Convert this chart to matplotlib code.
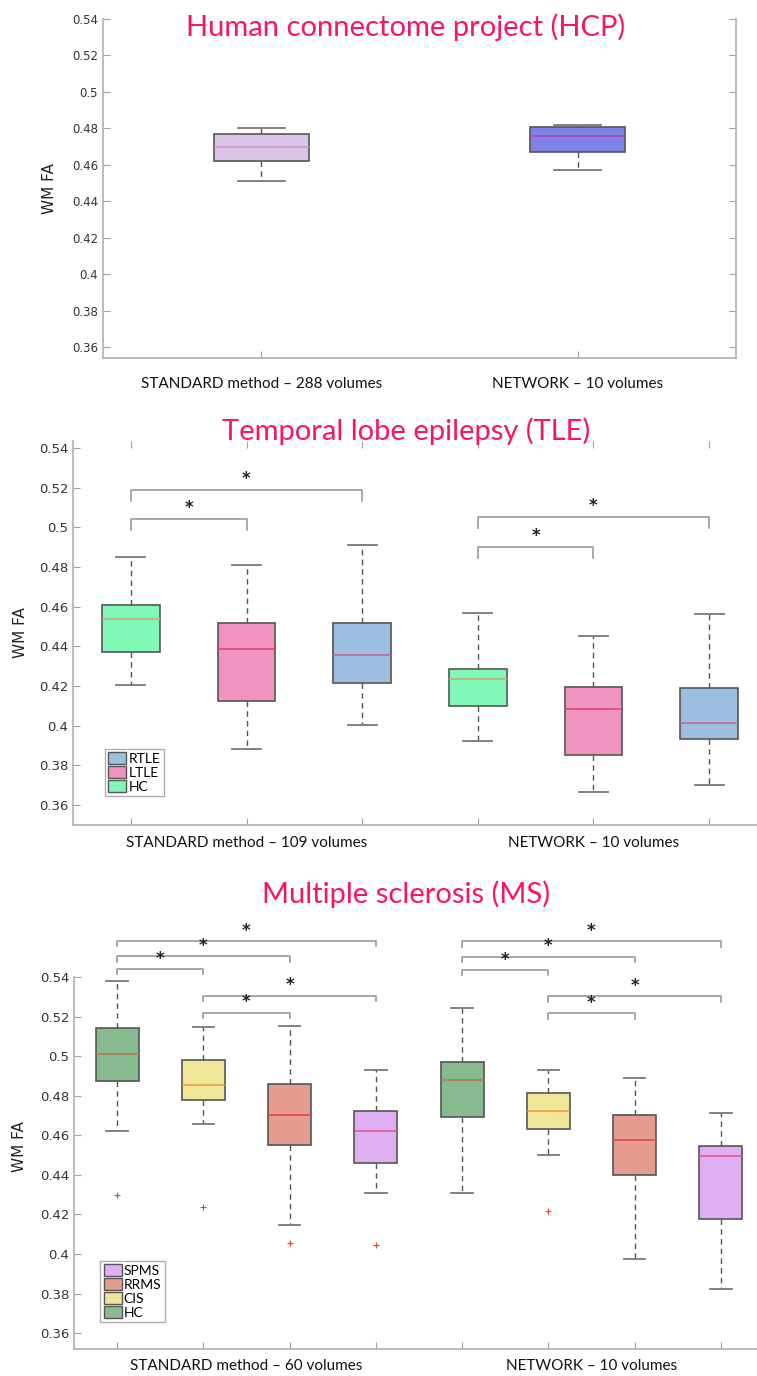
import matplotlib.pyplot as plt
from matplotlib.patches import Patch

# ---- data ----
yticks = [0.36, 0.38, 0.40, 0.42, 0.44, 0.46, 0.48, 0.50, 0.52, 0.54]

# Human connectome project
hcp_groups = ['STANDARD method – 288 volumes', 'NETWORK – 10 volumes']
hcp_whislo = [0.451, 0.457]
hcp_q1 = [0.462, 0.467]
hcp_med = [0.4697, 0.4758]
hcp_q3 = [0.4769, 0.481]
hcp_whishi = [0.4802, 0.4818]
hcp_colors = ['#d9c4ea', '#8181ea']
hcp_medcolors = ['#dc90c8', '#b040b0']

# Temporal lobe epilepsy: HC, LTLE, RTLE (standard), then same for network
tle_groups = ['STANDARD method – 109 volumes', 'NETWORK – 10 volumes']
tle_names = ['HC', 'LTLE', 'RTLE']
tle_whislo = [0.4207, 0.3883, 0.4004, 0.3923, 0.3667, 0.3704]
tle_q1 = [0.4370, 0.4123, 0.4214, 0.4098, 0.3855, 0.3932]
tle_med = [0.4539, 0.4385, 0.4356, 0.4234, 0.4085, 0.4016]
tle_q3 = [0.4611, 0.4516, 0.4516, 0.4288, 0.4195, 0.4192]
tle_whishi = [0.4848, 0.4808, 0.4913, 0.4568, 0.4452, 0.4561]
tle_colors = ['#80f8b8', '#f093be', '#9cbee0']
tle_medcolors = ['#c8a878', '#e83c6c', '#c86488']
tle_sig = [(1, 3, 0.5189), (1, 2, 0.5041), (4, 6, 0.5051), (4, 5, 0.4900)]

# Multiple sclerosis: HC, CIS, RRMS, SPMS (standard), then network
ms_groups = ['STANDARD method – 60 volumes', 'NETWORK – 10 volumes']
ms_names = ['HC', 'CIS', 'RRMS', 'SPMS']
ms_whislo = [0.4620, 0.4657, 0.4148, 0.4308, 0.4310, 0.4499, 0.3976, 0.3825]
ms_q1 = [0.4874, 0.4777, 0.4552, 0.4462, 0.4691, 0.4632, 0.4397, 0.4177]
ms_med = [0.5011, 0.4856, 0.4704, 0.4623, 0.4878, 0.4723, 0.4574, 0.4494]
ms_q3 = [0.5144, 0.4982, 0.4859, 0.4724, 0.4972, 0.4814, 0.4704, 0.4544]
ms_whishi = [0.5378, 0.5149, 0.5152, 0.4932, 0.5245, 0.4930, 0.4891, 0.4714]
ms_fliers = [[0.4300], [0.4237], [0.4057], [0.4047], [], [0.4219], [], []]
ms_colors = ['#88ba90', '#f0e69a', '#e49c8e', '#e0aef2']
ms_medcolors = ['#c07050', '#f09040', '#e84040', '#e85080']
ms_sig = [(1, 4, 0.5582), (1, 3, 0.5504), (1, 2, 0.5440), (2, 4, 0.5306), (2, 3, 0.5220),
          (5, 8, 0.5580), (5, 7, 0.5503), (5, 6, 0.5435), (6, 8, 0.5302), (6, 7, 0.5216)]

W, H = 757, 1376
TITLE_RED = '#fa1560'
NARROW = ['Lato', 'DejaVu Sans']

fig = plt.figure(figsize=(W / 100, H / 100), dpi=100)


def add_axes_px(left, top, right, bottom):
    return fig.add_axes([left / W, 1 - bottom / H, (right - left) / W, (bottom - top) / H])


def draw_boxes(ax, positions, width, whislo, q1, med, q3, whishi, fliers, colors, medcolors):
    stats = []
    for i in range(len(positions)):
        stats.append({'whislo': whislo[i], 'q1': q1[i], 'med': med[i], 'q3': q3[i],
                      'whishi': whishi[i], 'fliers': fliers[i]})
    bp = ax.bxp(stats, positions=positions, widths=width, patch_artist=True,
                boxprops=dict(edgecolor='#555555', linewidth=1.2),
                whiskerprops=dict(color='#555555', linestyle=(0, (4, 3)), linewidth=1),
                capprops=dict(color='#777777', linewidth=1.3),
                medianprops=dict(linewidth=1.1),
                flierprops=dict(marker='+', markeredgecolor='#ff3030', markersize=4, markeredgewidth=0.8))
    for i, box in enumerate(bp['boxes']):
        box.set_facecolor(colors[i % len(colors)])
        bp['medians'][i].set_color(medcolors[i % len(medcolors)])
    return bp


def style(ax, ylim, xlim, positions, centers, groups, tick_fs, label_pad, ylabel_x, ylabel_y=0.5):
    ax.set_ylim(*ylim)
    ax.set_xlim(*xlim)
    ax.set_yticks(yticks)
    ax.set_yticklabels(['%g' % round(v, 2) for v in yticks])
    ax.xaxis.remove_overlapping_locs = False
    ax.set_xticks(positions)
    ax.set_xticklabels([''] * len(positions))
    ax.set_xticks(centers, groups, minor=True)
    for s in ax.spines.values():
        s.set_color('#b0b0b0')
        s.set_linewidth(1.2)
    ax.spines['top'].set_visible(False)
    ax.tick_params(axis='both', which='major', direction='in', color='#a0a0a0', length=5,
                   labelcolor='#333333', labelsize=tick_fs, right=True)
    ax.tick_params(axis='x', which='minor', length=0, pad=label_pad, labelsize=11, labelcolor='#111111')
    for t in ax.get_xticklabels(minor=True):
        t.set_family(NARROW)
    ax.set_ylabel('WM FA', fontsize=11, color='#222222')
    ax.yaxis.set_label_coords(ylabel_x, ylabel_y)


def brackets(ax, sig, drop, star_off):
    for a, b, y in sig:
        ax.plot([a, a, b, b], [y - drop, y, y, y - drop], color='#9a9a9a', lw=1.2, clip_on=False)
        ax.text((a + b) / 2, y + star_off, '*', ha='center', va='bottom', fontsize=12,
                fontweight='bold', color='#222222', clip_on=False)


def legend(ax, names, colors, anchor):
    handles = [Patch(facecolor=colors[i], edgecolor='#555555', label=names[i])
               for i in range(len(names) - 1, -1, -1)]
    leg = ax.legend(handles=handles, loc='lower left', bbox_to_anchor=anchor, borderaxespad=0,
                    handlelength=1.3, handleheight=0.9, handletextpad=0.15, borderpad=0.25,
                    labelspacing=0.1, fancybox=False, prop={'family': NARROW, 'size': 10})
    leg.get_frame().set_edgecolor('#999999')
    leg.get_frame().set_linewidth(1)


# ---- panel 1: HCP ----
ax1 = add_axes_px(103, 19, 736, 358)
pos1 = [1, 2]
draw_boxes(ax1, pos1, 0.3, hcp_whislo, hcp_q1, hcp_med, hcp_q3, hcp_whishi, [[], []],
           hcp_colors, hcp_medcolors)
style(ax1, (0.354, 0.54), (0.5, 2.5), pos1, pos1, hcp_groups, 8.5, 14, -0.073)

# ---- panel 2: TLE ----
ax2 = add_axes_px(73, 441, 767, 825)
pos2 = [1, 2, 3, 4, 5, 6]
draw_boxes(ax2, pos2, 0.5, tle_whislo, tle_q1, tle_med, tle_q3, tle_whishi, [[]] * 6,
           tle_colors, tle_medcolors)
style(ax2, (0.35, 0.5435), (0.5, 6.5), pos2, [2, 5], tle_groups, 9.5, 8, -0.065)
ax2.tick_params(axis='x', which='major', top=True)
brackets(ax2, tle_sig, 0.0054, 0.0010)
legend(ax2, tle_names, tle_colors, (0.046, 0.075))

# ---- panel 3: MS ----
ax3 = add_axes_px(74, 977, 764, 1349)
pos3 = [1, 2, 3, 4, 5, 6, 7, 8]
draw_boxes(ax3, pos3, 0.5, ms_whislo, ms_q1, ms_med, ms_q3, ms_whishi, ms_fliers,
           ms_colors, ms_medcolors)
style(ax3, (0.352, 0.54), (0.5, 8.5), pos3, [2.5, 6.5], ms_groups, 9.5, 7, -0.068, 0.543)
brackets(ax3, ms_sig, 0.0026, 0.0006)
legend(ax3, ms_names, ms_colors, (0.038, 0.072))

# ---- titles ----
fig.text(406 / W, 1 - 27 / H, 'Human connectome project (HCP)', ha='center', va='center',
         fontsize=21, color=TITLE_RED, family=NARROW)
fig.text(406 / W, 1 - 431 / H, 'Temporal lobe epilepsy (TLE)', ha='center', va='center',
         fontsize=21, color=TITLE_RED, family=NARROW)
fig.text(406 / W, 1 - 894 / H, 'Multiple sclerosis (MS)', ha='center', va='center',
         fontsize=21, color=TITLE_RED, family=NARROW)

plt.savefig('out.png', dpi=100)
